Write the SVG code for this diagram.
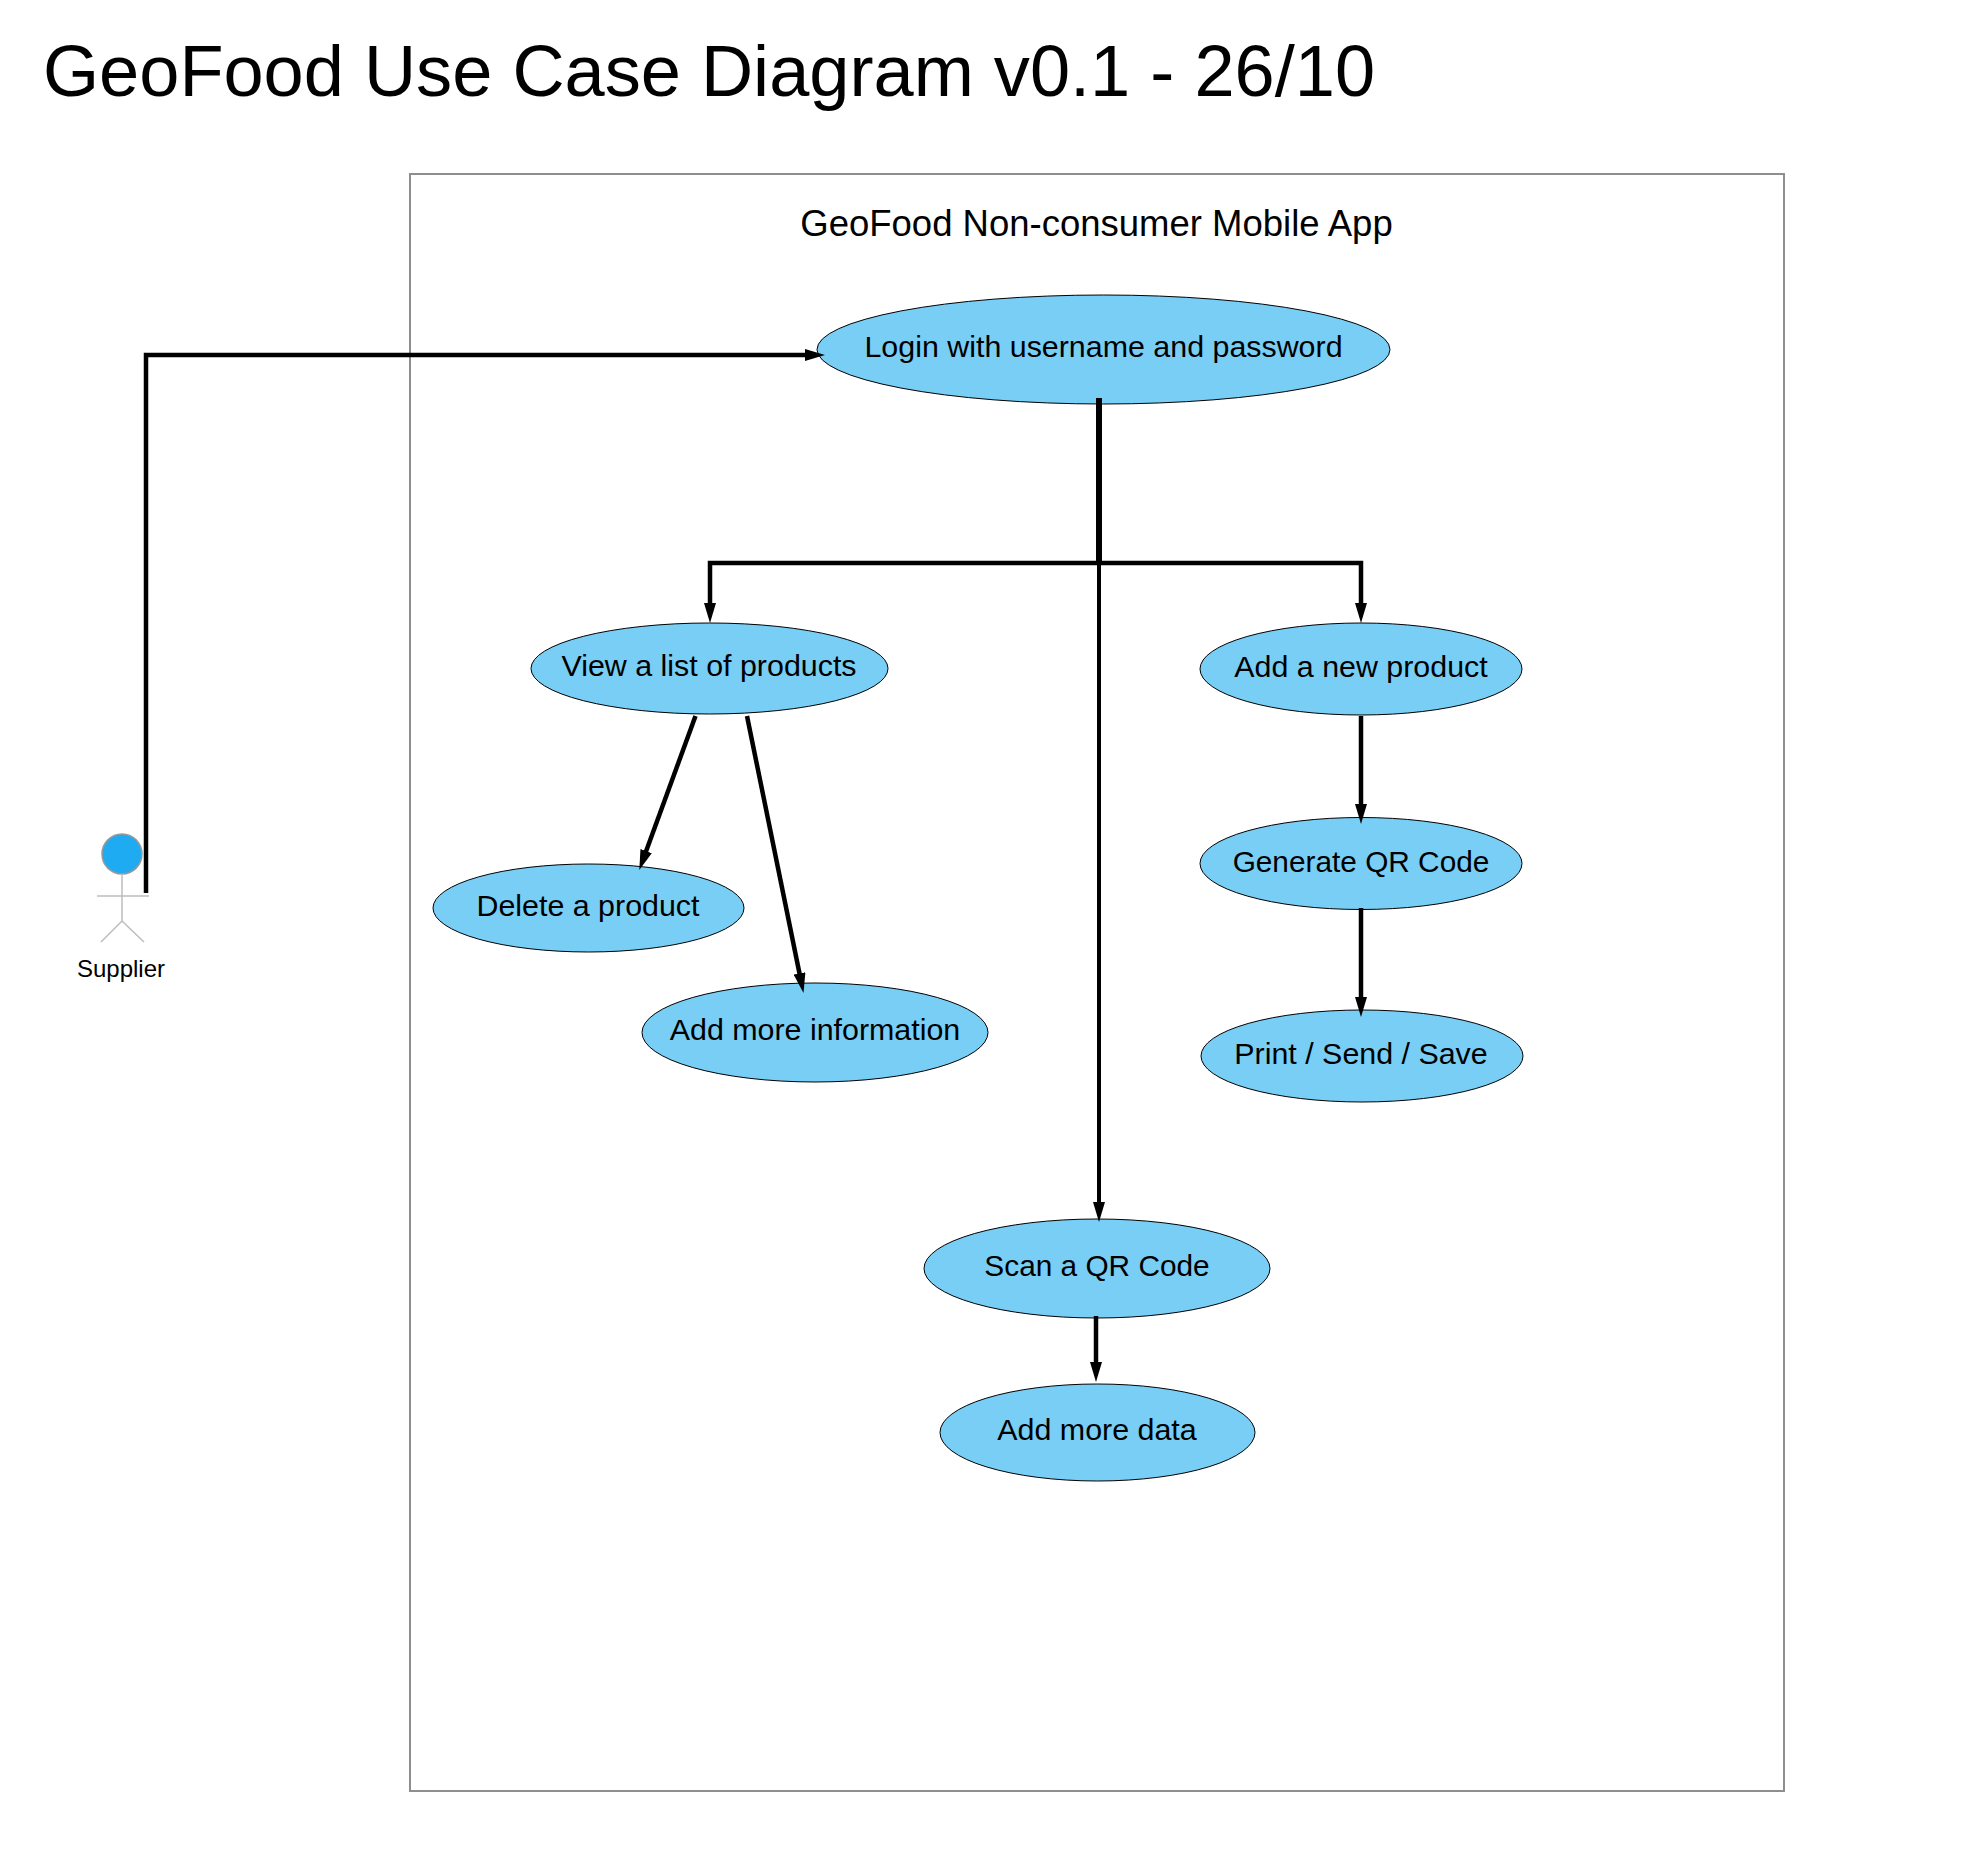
<svg xmlns="http://www.w3.org/2000/svg" width="1978" height="1858" viewBox="0 0 1978 1858">
<style>
text{font-family:"Liberation Sans",Arial,sans-serif;fill:#000;text-anchor:middle}
.uc ellipse{fill:#79cef5;stroke:#000;stroke-width:1}
.uc text{font-size:30.400px}
.uc text.q{font-size:29.800px}
.c{fill:none;stroke:#000;stroke-width:4.500}
</style>
<defs>
<marker id="a" viewBox="0 0 20 12" markerUnits="userSpaceOnUse" markerWidth="20" markerHeight="12" refX="10" refY="6" orient="auto"><path d="M0 0L20 6L0 12z" fill="#000"/></marker>
</defs>
<rect width="1978" height="1858" fill="#fff"/>
<text id="title" x="709" y="96" style="font-size:72.200px">GeoFood Use Case Diagram v0.1 - 26/10</text>
<g id="system"><rect x="410" y="174" width="1374" height="1617" fill="#fff" stroke="#8e8e8e" stroke-width="2"/>
<text x="1096.500" y="236" style="font-size:36.500px">GeoFood Non-consumer Mobile App</text></g>
<g id="supplier" fill="none" stroke="#bdbdbd" stroke-width="1.5">
<circle cx="122" cy="854" r="20" fill="#1eabf2" stroke="#999"/>
<path d="M122 874V921M97 896H149M122 921L101 942M122 921L144 942"/>
<text x="121" y="977" stroke="none" style="font-size:24px">Supplier</text></g>
<g id="n-login" class="uc"><ellipse cx="1103.500" cy="349.500" rx="286.500" ry="54.500"/><text x="1103.500" y="357">Login with username and password</text></g>
<g id="n-view" class="uc"><ellipse cx="709.500" cy="668.500" rx="178.500" ry="45.500"/><text x="709" y="676">View a list of products</text></g>
<g id="n-delete" class="uc"><ellipse cx="588.500" cy="908" rx="155.500" ry="44"/><text x="588" y="916">Delete a product</text></g>
<g id="n-info" class="uc"><ellipse cx="815" cy="1032.500" rx="173" ry="49.500"/><text x="815" y="1040">Add more information</text></g>
<g id="n-add" class="uc"><ellipse cx="1361" cy="669" rx="161" ry="46"/><text x="1361" y="677">Add a new product</text></g>
<g id="n-qr" class="uc"><ellipse cx="1361" cy="863.500" rx="161" ry="46"/><text class="q" x="1361" y="872">Generate QR Code</text></g>
<g id="n-print" class="uc"><ellipse cx="1362" cy="1056" rx="161" ry="46"/><text x="1361" y="1064">Print / Send / Save</text></g>
<g id="n-scan" class="uc"><ellipse cx="1097" cy="1268.500" rx="173" ry="49.500"/><text class="q" x="1097" y="1276">Scan a QR Code</text></g>
<g id="n-data" class="uc"><ellipse cx="1097.500" cy="1432.500" rx="157.500" ry="48.500"/><text x="1097" y="1440">Add more data</text></g>
<g id="connectors">
<path class="c" d="M146 893V355H815" marker-end="url(#a)"/>
<path class="c" d="M1099 398V562" style="stroke-width:6"/>
<path class="c" d="M1099 563H710V613" marker-end="url(#a)"/>
<path class="c" d="M1099 563H1361V613" marker-end="url(#a)"/>
<path class="c" d="M1099 562V1212" marker-end="url(#a)" style="stroke-width:4"/>
<path class="c" d="M695.500 716L642.700 860.500" marker-end="url(#a)"/>
<path class="c" d="M747 716L801.500 983.200" marker-end="url(#a)"/>
<path class="c" d="M1361 716V814" marker-end="url(#a)"/>
<path class="c" d="M1361 908V1007" marker-end="url(#a)"/>
<path class="c" d="M1096 1316V1372" marker-end="url(#a)"/>
</g>
</svg>
